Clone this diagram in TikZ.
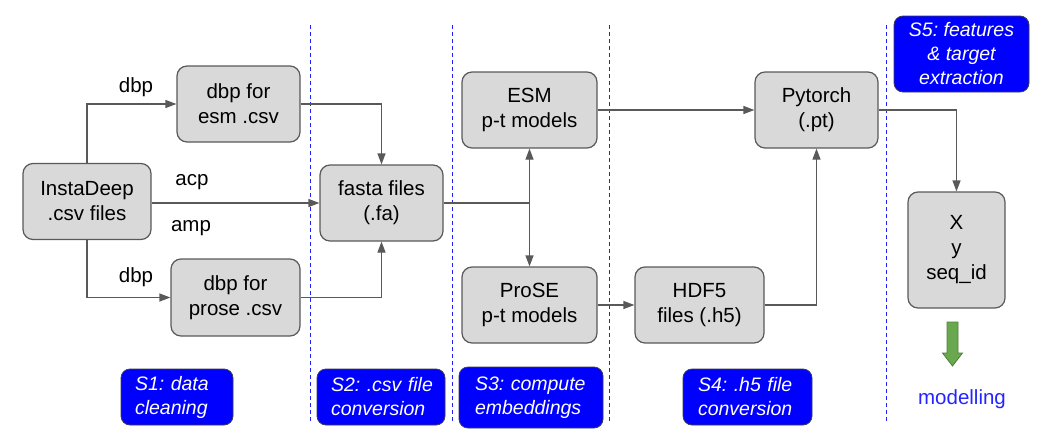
\documentclass[tikz,border=0pt]{standalone}
\usepackage{fontspec}
\setmainfont{Liberation Sans}
\usetikzlibrary{arrows.meta}
\frenchspacing
\definecolor{boxfill}{HTML}{D9D9D9}
\definecolor{boxline}{HTML}{595959}
\definecolor{conncol}{HTML}{595959}
\definecolor{stageblue}{HTML}{0000FF}
\definecolor{stageline}{HTML}{3C3C5A}
\definecolor{sepblue}{HTML}{2020FF}
\definecolor{modblue}{HTML}{2424FF}
\definecolor{arrgreen}{HTML}{6AA84F}
\definecolor{arrgreendark}{HTML}{4E7F3A}
\begin{document}
\frenchspacing
\begin{tikzpicture}[x=1pt,y=-1pt,
  box/.style={draw=boxline, fill=boxfill, rounded corners=10pt, line width=1.2pt,
    align=center, font=\fontsize{20.5}{25}\selectfont, inner sep=0pt},
  conn/.style={draw=conncol, line width=1.2pt},
  arr/.style={conn, -{Triangle[length=11pt,width=8pt]}},
  dblarr/.style={conn, {Triangle[length=11pt,width=8pt]}-{Triangle[length=11pt,width=8pt]}},
  lab/.style={font=\fontsize{20.5}{25}\selectfont, inner sep=0pt},
  stage/.style={draw=stageline, fill=stageblue, rounded corners=9pt, line width=0.8pt,
    text=white, font=\fontsize{19.5}{24}\selectfont\itshape\frenchspacing, inner ysep=0pt, align=left},
  sepline/.style={draw=sepblue, dash pattern=on 4pt off 3pt, line width=1pt}]
\useasboundingbox (0,0) rectangle (1054,447);

% separators
\draw[sepline] (310,25) -- (310,423);
\draw[sepline] (452,25) -- (452,423);
\draw[sepline] (609,25) -- (609,423);
\draw[sepline] (886,25) -- (886,423);

% boxes
\node[box, minimum width=128pt, minimum height=76pt] (insta) at (87,201.5) {InstaDeep\\.csv files};
\node[box, minimum width=123pt, minimum height=76pt] (desm) at (238.5,104) {dbp for\\esm .csv};
\node[box, minimum width=129pt, minimum height=77pt] (dprose) at (235.5,297.5) {dbp for\\prose .csv};
\node[box, minimum width=123pt, minimum height=76pt] (fasta) at (381.5,203) {fasta files\\(.fa)};
\node[box, minimum width=135pt, minimum height=76pt] (esm) at (529.5,110) {ESM\\p-t models};
\node[box, minimum width=135pt, minimum height=76pt] (prose) at (529.5,305) {ProSE\\p-t models};
\node[box, minimum width=129pt, minimum height=76pt] (hdf) at (699.5,305) {HDF5\\files (.h5)};
\node[box, minimum width=123pt, minimum height=76pt] (pyt) at (816.5,110) {Pytorch\\(.pt)};
\node[box, minimum width=97pt, minimum height=116pt] (xys) at (956.5,250) {X\\y\\seq\_id};

% edge labels
\node[lab] (l1) at (136,87) {dbp};
\node[lab] (l2) at (192,182) {acp};
\node[lab] (l3) at (191,228) {amp};
\node[lab] (l4) at (136,277) {dbp};

% connectors
\draw[arr] (insta.north) |- (desm.west);
\draw[arr] (insta.south) |- (dprose.west);
\draw[arr] (insta.east |- fasta.west) -- (fasta.west);
\draw[arr] (desm.east) -| (fasta.north);
\draw[arr] (dprose.east) -| (fasta.south);
\coordinate (j) at (esm.south |- fasta.east);
\draw[conn] (fasta.east) -- (j);
\draw[dblarr] (esm.south) -- (prose.north);
\draw[arr] (esm.east) -- (pyt.west);
\draw[arr] (prose.east) -- (hdf.west);
\draw[arr] (hdf.east) -| (pyt.south);
\draw[arr] (pyt.east) -| (xys.north);

% stage labels
\node[stage, inner xsep=14pt, text width=84pt, minimum height=56pt] (s1) at (177,397)
  {\mbox{S1: data}\\\mbox{cleaning}};
\node[stage, inner xsep=14pt, text width=100pt, minimum height=56pt] (s2) at (381,397)
  {\mbox{S2: .csv file}\\\mbox{conversion}};
\node[stage, inner xsep=16pt, text width=112pt, minimum height=61pt] (s3) at (531,397.5)
  {\mbox{S3: compute}\\\mbox{embeddings}};
\node[stage, inner xsep=15pt, text width=99pt, minimum height=56pt] (s4) at (747.5,397)
  {\mbox{S4: .h5 file}\\\mbox{conversion}};
\node[stage, inner xsep=0pt, align=center, minimum width=135pt, minimum height=76pt] (s5) at (961.5,54)
  {S5: features\\\& target\\extraction};

% modelling arrow
\filldraw[fill=arrgreen, draw=arrgreendark, line width=0.8pt]
  (947,322) -- (958,322) -- (958,353) -- (962.5,353) -- (952.5,366) -- (942.5,353) -- (947,353) -- cycle;
\node[lab, text=modblue] (model) at (962,399) {modelling};
\end{tikzpicture}
\end{document}
